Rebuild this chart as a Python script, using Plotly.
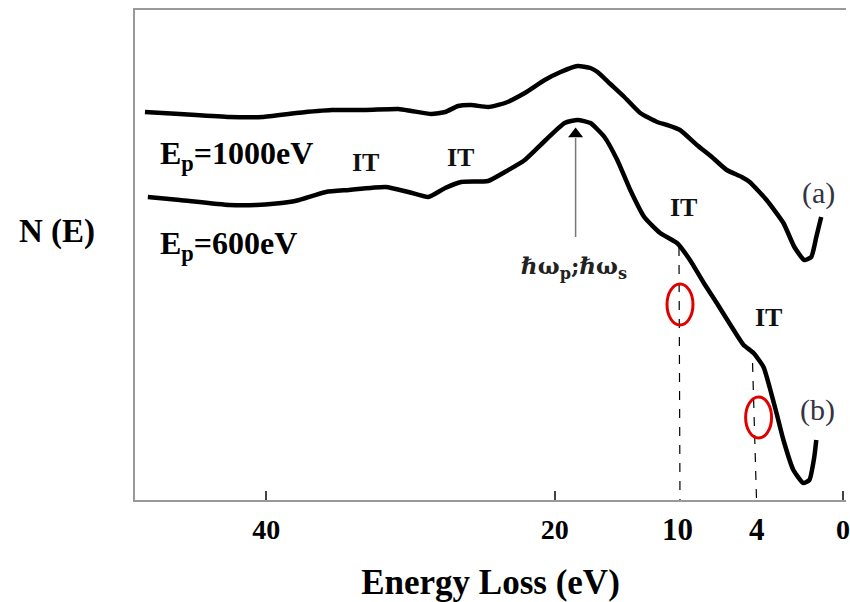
import plotly.graph_objects as go

# Energy loss (eV) and N(E) (arbitrary units)
a_ev = [48.41, 46.0, 42.55, 40.28, 37.93, 35.45, 33.10, 30.83, 29.93, 28.55, 27.59,
        26.69, 25.79, 24.62, 23.45, 22.07, 20.69, 19.59, 18.41, 17.52, 17.03, 16.14,
        15.17, 14.07, 12.90, 12.21, 11.31, 10.14, 9.10, 8.07, 7.03, 6.48, 5.31, 4.14,
        3.38, 2.69, 2.21, 1.86, 1.52]
a_n = [388, 386, 383, 383, 387, 390, 390, 391, 389, 386, 388,
       394, 395, 393, 397, 407, 420, 428, 434, 432, 428, 416,
       403, 387, 378, 375, 370, 355, 343, 330, 323, 318, 300, 277,
       253, 240, 243, 263, 283]

b_ev = [48.21, 46.0, 42.55, 40.69, 38.41, 37.72, 35.86, 34.28, 31.72, 30.14, 28.76,
        27.59, 26.48, 24.62, 23.45, 22.07, 20.62, 19.31, 18.41, 17.52, 16.55, 15.66,
        14.76, 13.79, 12.69, 11.52, 10.62, 9.66, 8.76, 7.59, 6.90, 6.21, 5.52, 5.10,
        4.62, 4.14, 3.45, 2.76, 2.34, 2.0, 1.86]
b_n = [303, 300, 295, 295, 298, 300, 308, 310, 313, 308, 303,
       312, 318, 319, 328, 340, 360, 377, 380, 377, 363, 340,
       310, 283, 267, 257, 240, 217, 197, 170, 155, 147, 133, 113,
       87, 60, 30, 17, 20, 43, 60]

tick_vals = [40, 20, 0]
tick_text = ["40", "20", "0"]

# interband transitions marked on the figure
it_ev = [33.1, 26.55, 11.1, 5.2]
it_n = [338, 343, 293, 183]

# annotated energies (dashed markers) : label, x-position on the curve axis
mark_labels = ["10", "4"]
mark_ev = [11.45, 5.95]

serif = "Liberation Serif, Times New Roman, serif"

fig = go.Figure()
fig.add_trace(go.Scatter(x=a_ev, y=a_n, mode="lines", line=dict(color="black", width=4.5, shape="spline", smoothing=0.5),
                         hoverinfo="skip"))
fig.add_trace(go.Scatter(x=b_ev, y=b_n, mode="lines", line=dict(color="black", width=4.5, shape="spline", smoothing=0.5),
                         hoverinfo="skip"))

# plasmon arrow
plasmon_ev = 18.55
fig.add_shape(type="line", x0=plasmon_ev, x1=plasmon_ev, y0=263, y1=362, line=dict(color="#777", width=1.5))
fig.add_trace(go.Scatter(x=[plasmon_ev], y=[366], mode="markers",
                         marker=dict(symbol="triangle-up", size=13, color="black"), hoverinfo="skip"))
fig.add_annotation(x=plasmon_ev + 0.1, y=233, text="<b>ℏω<sub>p</sub>;ℏω<sub>s</sub></b>", showarrow=False,
                   font=dict(family="DejaVu Serif", size=23, color="#222"))

# dashed marker lines and red ellipses
fig.add_shape(type="line", x0=11.38, x1=11.31, y0=253, y1=-5, line=dict(color="black", width=1.2, dash="dash"))
fig.add_shape(type="line", x0=6.28, x1=6.0, y0=137, y1=-2, line=dict(color="black", width=1.2, dash="dash"))
fig.add_shape(type="circle", x0=11.31 - 0.9, x1=11.31 + 0.9, y0=175, y1=216, line=dict(color="#e00000", width=3))
fig.add_shape(type="circle", x0=5.86 - 0.9, x1=5.86 + 0.9, y0=62, y1=103, line=dict(color="#e00000", width=3))

for lab, xv in zip(mark_labels, mark_ev):
    fig.add_annotation(x=xv, yref="paper", y=-0.061, yanchor="middle", text=f"<b>{lab}</b>", showarrow=False,
                       font=dict(family=serif, size=31, color="black"))

for xv, yv in zip(it_ev, it_n):
    fig.add_annotation(x=xv, y=yv, text="<b>IT</b>", showarrow=False,
                       font=dict(family=serif, size=26, color="#111"))

fig.add_annotation(x=47.5, y=345, xanchor="left", text="<b>E<sub>p</sub>=1000eV</b>", showarrow=False,
                   font=dict(family=serif, size=32, color="black"))
fig.add_annotation(x=47.5, y=255, xanchor="left", text="<b>E<sub>p</sub>=600eV</b>", showarrow=False,
                   font=dict(family=serif, size=32, color="black"))
fig.add_annotation(x=1.72, y=307, text="(a)", showarrow=False,
                   font=dict(family=serif, size=30, color="#333344"))
fig.add_annotation(x=1.79, y=90, text="(b)", showarrow=False,
                   font=dict(family=serif, size=30, color="#333344"))
fig.add_annotation(xref="paper", yref="paper", x=-0.11, y=0.547, xanchor="center", text="<b>N (E)</b>",
                   showarrow=False, font=dict(family=serif, size=33, color="black"))

fig.update_layout(
    width=850, height=602,
    margin=dict(l=135, r=0, t=10, b=102),
    paper_bgcolor="white", plot_bgcolor="white",
    showlegend=False,
    xaxis=dict(range=[49.1, -0.2], showgrid=False, zeroline=False,
               showline=True, mirror=True, linecolor="#999", linewidth=1.5,
               ticks="inside", ticklen=9, tickwidth=2, tickcolor="#444",
               tickvals=tick_vals, ticktext=[f"<b>{t}</b>" for t in tick_text],
               tickfont=dict(family=serif, size=28, color="black"), ticklabelstandoff=4,
               ticklabeloverflow="allow",
               title=dict(text="<b>Energy Loss (eV)</b>", font=dict(family=serif, size=35, color="black"),
                          standoff=25)),
    yaxis=dict(range=[0, 490], showgrid=False, zeroline=False, showticklabels=False,
               showline=True, linecolor="#999", linewidth=1.5, ticks=""),
)

fig.write_html("out.html")
